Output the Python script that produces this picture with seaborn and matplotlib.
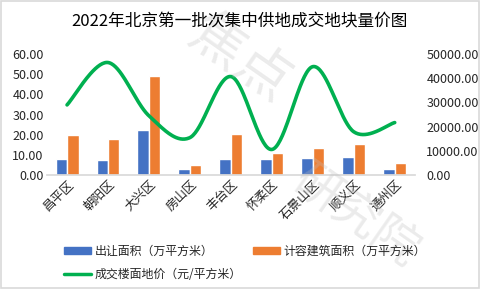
import numpy as np
import pandas as pd
import matplotlib
matplotlib.use("Agg")
import matplotlib.pyplot as plt
import seaborn as sns
from matplotlib.patches import Patch
from matplotlib.lines import Line2D

districts = ["昌平区", "朝阳区", "大兴区", "房山区", "丰台区", "怀柔区", "石景山区", "顺义区", "通州区"]
area_sold = [8.0, 7.5, 22.4, 3.0, 8.0, 8.0, 8.5, 9.0, 3.0]
area_build = [20.0, 17.9, 49.3, 5.0, 20.4, 10.9, 13.4, 15.4, 6.0]
floor_price = [29000, 46500, 24500, 15500, 40700, 10600, 44800, 17900, 21700]
left_ticks = [0, 10, 20, 30, 40, 50, 60]
right_ticks = [0, 10000, 20000, 30000, 40000, 50000]

s1 = "出让面积（万平方米）"
s2 = "计容建筑面积（万平方米）"
s3 = "成交楼面地价（元/平方米）"
title = "2022年北京第一批次集中供地成交地块量价图"

sns.set_theme(style="white")
plt.rcParams["font.family"] = ["Noto Sans CJK SC", "DejaVu Sans"]

C_BLUE = "#4472C4"
C_ORANGE = "#ED7D31"
C_GREEN = "#00B050"

df = pd.DataFrame({
    "district": districts * 2,
    "value": area_sold + area_build,
    "series": [s1] * len(districts) + [s2] * len(districts),
})

fig = plt.figure(figsize=(4.8, 2.89), dpi=100)

# watermark (behind the chart)
fig.text(0.50, 0.80, "焦点", fontsize=40, color="#bfbfbf", alpha=0.3, rotation=-35,
         ha="center", va="center", zorder=0)
fig.text(0.74, 0.25, "研究院", fontsize=34, color="#bfbfbf", alpha=0.3, rotation=-35,
         ha="center", va="center", zorder=0)

ax = fig.add_axes([0.097, 0.394, 0.768, 0.419])
ax.patch.set_alpha(0)

sns.barplot(data=df, x="district", y="value", hue="series", order=districts,
            hue_order=[s1, s2], palette=[C_BLUE, C_ORANGE], width=0.56, gap=0,
            saturation=1, legend=False, ax=ax, errorbar=None)

ax.set_ylim(0, 60)
ax.set_yticks(left_ticks)
ax.set_yticklabels([f"{v:.2f}" for v in left_ticks], fontsize=9)
ax.set_xlim(-0.5, len(districts) - 0.5)
ax.set_xlabel("")
ax.set_ylabel("")
for sp in ["top", "right", "left"]:
    ax.spines[sp].set_visible(False)
ax.spines["bottom"].set_color("#d9d9d9")
ax.tick_params(axis="y", length=0, pad=2)
ax.tick_params(axis="x", length=0, pad=2)
plt.setp(ax.get_xticklabels(), rotation=45, ha="right", rotation_mode="anchor", fontsize=9)

# smooth line (Excel-style Bezier smoothing through data points)
ax2 = ax.twinx()
ax2.patch.set_alpha(0)
xs = np.arange(len(floor_price), dtype=float)
ys = np.array(floor_price, dtype=float)
px = np.concatenate([[xs[0]], xs, [xs[-1]]])
py = np.concatenate([[ys[0]], ys, [ys[-1]]])
cx, cy = [], []
t = np.linspace(0, 1, 40)
for i in range(1, len(px) - 2):
    p0 = np.array([px[i], py[i]])
    p3 = np.array([px[i + 1], py[i + 1]])
    p1 = p0 + (np.array([px[i + 1], py[i + 1]]) - np.array([px[i - 1], py[i - 1]])) / 6
    p2 = p3 - (np.array([px[i + 2], py[i + 2]]) - np.array([px[i], py[i]])) / 6
    b = ((1 - t) ** 3)[:, None] * p0 + (3 * (1 - t) ** 2 * t)[:, None] * p1 \
        + (3 * (1 - t) * t ** 2)[:, None] * p2 + (t ** 3)[:, None] * p3
    cx.extend(b[:, 0])
    cy.extend(b[:, 1])
ax2.plot(cx, cy, color=C_GREEN, lw=2.6, solid_capstyle="round")
ax2.set_ylim(0, 50000)
ax2.set_yticks(right_ticks)
ax2.set_yticklabels([f"{v:.2f}" for v in right_ticks], fontsize=9)
ax2.tick_params(axis="y", length=0, pad=8)
ax2.grid(False)
for sp in ["top", "right", "left", "bottom"]:
    ax2.spines[sp].set_visible(False)

fig.text(0.5, 0.927, title, ha="center", va="center", fontsize=12, color="#000000")

handles = [Patch(color=C_BLUE), Line2D([0], [0], color=C_GREEN, lw=2.5), Patch(color=C_ORANGE)]
labels = [s1, s3, s2]
fig.legend(handles, labels, ncol=2, loc="upper left", bbox_to_anchor=(0.133, 0.152),
           frameon=False, fontsize=8.6, handlelength=2.3, handleheight=0.55,
           columnspacing=0.9, handletextpad=0.3, labelspacing=0.8,
           borderaxespad=0, borderpad=0, bbox_transform=fig.transFigure)

border = plt.Rectangle((0.002, 0.003), 0.996, 0.994, transform=fig.transFigure,
                       fill=False, edgecolor="#d9d9d9", lw=1.2)
fig.patches.append(border)

fig.savefig("out.png", dpi=100)
